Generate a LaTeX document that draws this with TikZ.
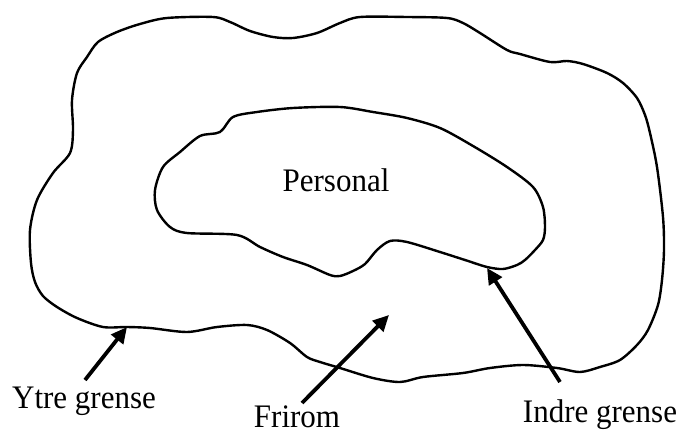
\documentclass[tikz,border=0pt]{standalone}
\usepackage{fontspec}
\setmainfont{Liberation Serif}
\usepackage{tikz}
\usetikzlibrary{arrows.meta,positioning}

\tikzset{
  grense/.style={line width=2.4pt,line join=round},
  pil/.style={line width=3.8pt,-{Triangle[length=16pt,width=15pt]}},
  etikett/.style={font=\fontsize{31}{31}\selectfont,inner sep=0pt,anchor=base,
    yscale=1.06}
}

\begin{document}
\begin{tikzpicture}[x=1pt,y=-1pt]
  \useasboundingbox (0,0) rectangle (681,433);
  % ytre grense
  \draw[grense] plot[smooth cycle,tension=0.5] coordinates {
    (213,17) (230,22) (250,31) (273,37) (293,38) (317,33) (340,23) (360,17)
    (407,17) (447,18) (463,23) (480,33) (507,50) (520,54) (550,62) (567,61)
    (583,64) (607,73) (623,83) (637,98) (645,115) (650,133) (657,167)
    (663,217) (664,250) (662,280) (658,305) (648,330) (637,345) (620,360)
    (600,367) (580,372) (557,368) (523,365) (490,368) (463,373) (423,377)
    (400,382) (373,378) (340,368) (320,362) (307,357) (290,343) (267,330)
    (247,325) (217,327) (187,332) (150,328) (127,327) (103,327) (77,318)
    (57,307) (43,296) (35,282) (31,263) (30,230) (37,200) (53,173) (70,153)
    (73,130) (72,100) (77,73) (87,57) (98,42) (117,32) (140,24) (167,18)};
  % indre grense
  \draw[grense] plot[smooth cycle,tension=0.5] coordinates {
    (293,108) (340,107) (373,112) (407,118) (440,128) (473,146) (507,167)
    (533,187) (543,207) (545,227) (543,240) (535,250) (525,260) (517,265)
    (503,269) (487,267) (465,260) (440,252) (407,242) (390,241) (377,250)
    (365,264) (353,271) (340,276) (330,275) (307,265) (283,257) (260,247)
    (237,235) (187,233) (170,227) (157,210) (155,190) (163,167) (180,152)
    (200,136) (220,132) (233,117) (257,112)};

  \node[etikett] (personal) at (336,192) {Personal};
  \node[etikett] (ytre) at (84,408) {Ytre grense};
  \node[etikett] (frirom) at (297,427) {Frirom};
  \node[etikett] (indre) at (600,422) {Indre grense};

  \coordinate (ytreTil) at (127,327);
  \coordinate (friromTil) at (389,315);
  \coordinate (indreTil) at (487,268);
  \coordinate (ytreFra) at (85,380);
  \coordinate (friromFra) at (302,403);
  \coordinate (indreFra) at (560,382);

  \draw[pil] (ytreFra) -- (ytreTil);
  \draw[pil] (friromFra) -- (friromTil);
  \draw[pil] (indreFra) -- (indreTil);
\end{tikzpicture}
\end{document}
